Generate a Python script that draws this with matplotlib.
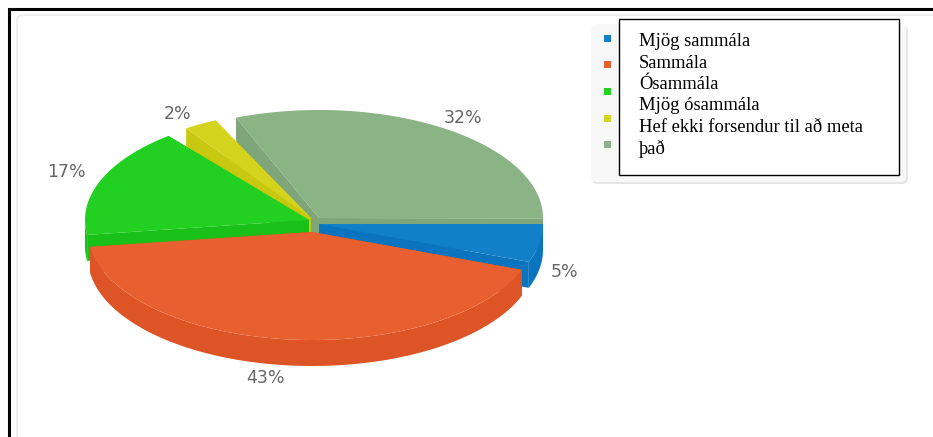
import numpy as np
import matplotlib
matplotlib.use("Agg")
import matplotlib.pyplot as plt
from matplotlib.patches import FancyBboxPatch, Rectangle

categories = ["Mjög sammála", "Sammála", "Ósammála", "Mjög ósammála",
              "Hef ekki forsendur til að meta\nþað"]
shares = [5.7, 42.1, 16.4, 2.4, 31.1]
pct_labels = ["5%", "43%", "17%", "2%", "32%"]

top_colors = ["#1280c8", "#e86030", "#22d022", "#d4d41e", "#8ab386"]
side_colors = ["#0a74be", "#dd5527", "#18c018", "#c8c810", "#7fa67b"]

# layout, in pixels of the 933x437 picture
centers = [(319, 224), (312, 232), (309, 220), (311, 218), (319, 218)]
gap_after = [0, 0, 5, 3.5, 0]
label_pos = [(565, 272), (265, 378), (66, 172), (178, 114), (463, 118)]
RX, RY, DEPTH = 224, 108, 26


def arc(cx, cy, a0, a1):
    t = np.radians(np.linspace(a0, a1, 200))
    return cx + RX * np.cos(t), cy + RY * np.sin(t)


def draw_slice(ax, center, a0, a1, top, side):
    cx, cy = center
    for a in (a0, a1):
        ex = cx + RX * np.cos(np.radians(a))
        ey = cy + RY * np.sin(np.radians(a))
        ax.fill([cx, ex, ex, cx], [cy, ey, ey + DEPTH, cy + DEPTH], color=side, lw=0)
    # outer wall, only the front half of the ellipse shows
    lo, hi = max(a0, 0), min(a1, 180)
    if hi > lo:
        x, y = arc(cx, cy, lo, hi)
        ax.fill(np.r_[x, x[::-1]], np.r_[y, y[::-1] + DEPTH], color=side, lw=0)
    x, y = arc(cx, cy, a0, a1)
    ax.fill(np.r_[cx, x], np.r_[cy, y], color=top, lw=0)


fig = plt.figure(figsize=(9.33, 4.37), dpi=100)
ax = fig.add_axes([0, 0, 1, 1])
ax.set_xlim(0, 933)
ax.set_ylim(437, 0)
ax.axis("off")

# page frame and chart panel
ax.add_patch(FancyBboxPatch((17, 15), 1000, 500, boxstyle="round,pad=0,rounding_size=6",
                            fc="white", ec="#eeeeee", lw=1.5))
ax.plot([9, 9, 933], [437, 8.5, 8.5], color="black", lw=2.2, solid_joinstyle="miter")

# angles run clockwise on screen from the east
starts = []
angle = 0
for share, gap in zip(shares, gap_after):
    starts.append(angle)
    angle += share * 3.6 + gap

for i in [4, 3, 2, 0, 1]:
    a0 = starts[i]
    a1 = a0 + shares[i] * 3.6
    draw_slice(ax, centers[i], a0, a1, top_colors[i], side_colors[i])

for (x, y), lab in zip(label_pos, pct_labels):
    ax.text(x, y, lab, color="#666666", fontsize=12.5, ha="center", va="center",
            family="DejaVu Sans")

# legend panel with the pasted text box over it
ax.add_patch(FancyBboxPatch((592, 26), 316, 158, boxstyle="round,pad=0,rounding_size=6",
                            fc="#e6e6e6", ec="none"))
ax.add_patch(FancyBboxPatch((591, 24), 315, 158, boxstyle="round,pad=0,rounding_size=6",
                            fc="#f8f8f8", ec="none"))
for i, col in enumerate(top_colors):
    ax.add_patch(Rectangle((603.5, 34.5 + i * 26.7), 7, 7, fc=col, ec="none"))

ax.add_patch(Rectangle((619, 19), 279.5, 156, fc="white", ec="black", lw=1))
lines = "\n".join(categories).split("\n")
for i, line in enumerate(lines):
    ax.text(639, 41.5 + i * 21.5, line, color="black", fontsize=13.4, va="center",
            family="Liberation Serif")

fig.savefig("out.png", dpi=100)
